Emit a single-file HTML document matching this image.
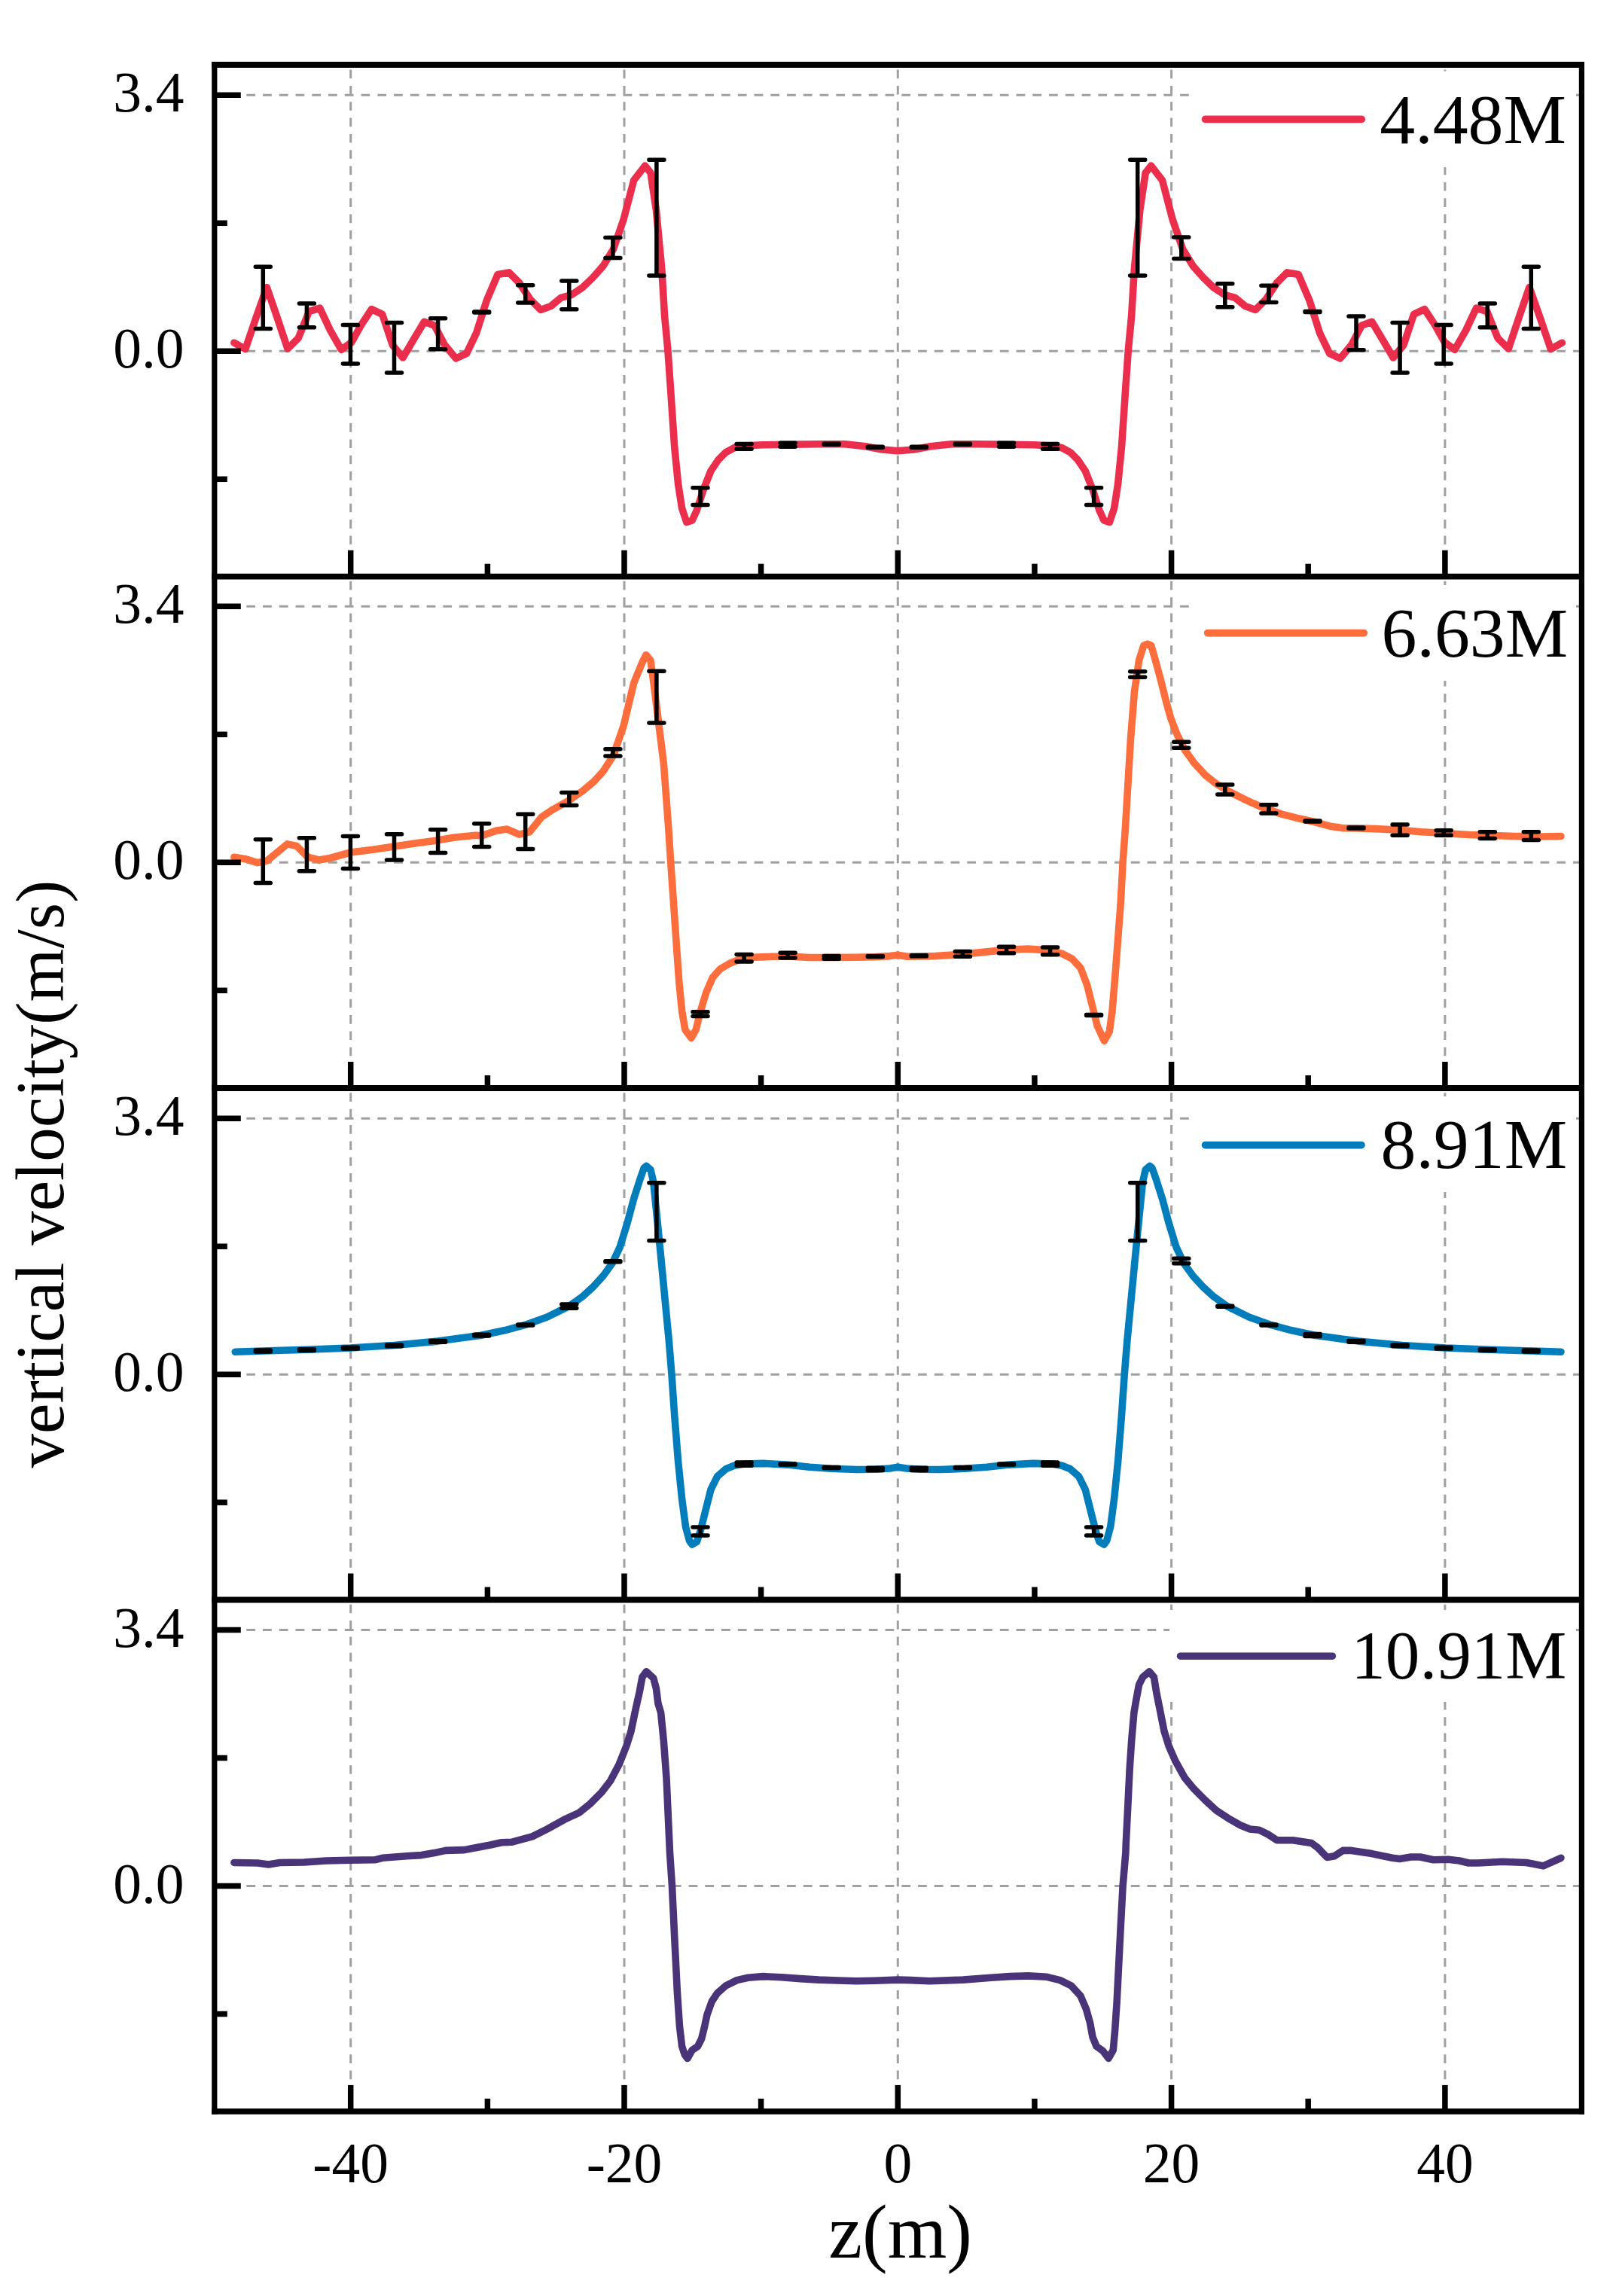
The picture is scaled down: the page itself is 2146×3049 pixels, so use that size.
<!DOCTYPE html><html><head><meta charset="utf-8"><title>vertical velocity</title><style>html,body{margin:0;padding:0;background:#fff}</style></head><body><svg width="2146" height="3049" viewBox="0 0 2146 3049" style="display:block">
<rect width="2146" height="3049" fill="#fff"/>
<g stroke="#a0a0a0" stroke-width="3.0" stroke-dasharray="11.6 9.74" fill="none">
<path d="M283.8 126.3H2100.4" stroke-dasharray="11.76 9.99"/>
<path d="M283.8 466.3H2100.4" stroke-dasharray="11.76 9.99"/>
<path d="M465.7 765.7V86.0"/>
<path d="M829.0 765.7V86.0"/>
<path d="M1192.3 765.7V86.0"/>
<path d="M1555.6 765.7V86.0"/>
<path d="M1918.9 765.7V86.0"/>
</g>
<rect x="1581" y="94.5" width="512" height="127.5" fill="#fff"/>
<g stroke="#a0a0a0" stroke-width="3.0" stroke-dasharray="11.6 9.74" fill="none">
<path d="M283.8 805.3H2100.4" stroke-dasharray="11.76 9.99"/>
<path d="M283.8 1145.3H2100.4" stroke-dasharray="11.76 9.99"/>
<path d="M465.7 1445.0V765.7"/>
<path d="M829.0 1445.0V765.7"/>
<path d="M1192.3 1445.0V765.7"/>
<path d="M1555.6 1445.0V765.7"/>
<path d="M1918.9 1445.0V765.7"/>
</g>
<rect x="1581" y="777.0" width="512" height="127" fill="#fff"/>
<g stroke="#a0a0a0" stroke-width="3.0" stroke-dasharray="11.6 9.74" fill="none">
<path d="M283.8 1485.2H2100.4" stroke-dasharray="11.76 9.99"/>
<path d="M283.8 1825.2H2100.4" stroke-dasharray="11.76 9.99"/>
<path d="M465.7 2124.5V1445.0"/>
<path d="M829.0 2124.5V1445.0"/>
<path d="M1192.3 2124.5V1445.0"/>
<path d="M1555.6 2124.5V1445.0"/>
<path d="M1918.9 2124.5V1445.0"/>
</g>
<rect x="1581" y="1456.0" width="512" height="127" fill="#fff"/>
<g stroke="#a0a0a0" stroke-width="3.0" stroke-dasharray="11.6 9.74" fill="none">
<path d="M283.8 2164.5H2100.4" stroke-dasharray="11.76 9.99"/>
<path d="M283.8 2504.5H2100.4" stroke-dasharray="11.76 9.99"/>
<path d="M465.7 2803.9V2124.5"/>
<path d="M829.0 2803.9V2124.5"/>
<path d="M1192.3 2803.9V2124.5"/>
<path d="M1555.6 2803.9V2124.5"/>
<path d="M1918.9 2803.9V2124.5"/>
</g>
<rect x="1553" y="2138.0" width="540" height="122" fill="#fff"/>
<polyline points="310.9,455.2 325.8,463.7 339.9,422.3 354.3,381.5 367.9,421.1 382.0,463.2 396.3,448.8 410.4,413.7 424.8,409.2 438.4,438.4 453.3,464.4 466.9,454.5 479.3,432.2 493.4,410.7 507.7,417.4 521.3,458.2 535.0,475.0 549.3,450.8 563.4,427.3 577.0,432.2 590.6,458.2 605.5,476.0 619.6,469.4 632.7,442.1 646.3,398.8 661.0,364.4 675.9,361.9 689.5,375.5 704.4,397.8 718.0,411.4 731.6,406.5 745.2,395.3 758.8,391.6 773.7,381.7 787.3,368.6 800.9,353.3 814.5,331.0 828.1,291.4 841.7,239.4 856.6,220.1 864.0,229.5 871.4,279.0 878.9,358.2 882.6,420.0 887.0,466.3 890.7,519.0 895.7,593.3 900.6,642.8 905.6,675.0 911.8,693.5 919.2,691.0 925.4,677.4 934.1,650.2 944.0,625.4 953.9,610.6 963.8,600.7 974.9,594.8 988.5,592.0 1013.3,590.8 1045.4,590.3 1087.5,589.8 1122.2,589.8 1149.4,592.8 1171.7,597.0 1192.2,598.7 1213.5,597.0 1235.8,592.8 1263.0,589.8 1297.7,589.8 1339.8,590.3 1371.9,590.8 1396.7,592.0 1410.3,594.8 1421.4,600.7 1431.3,610.6 1441.2,625.4 1451.1,650.2 1459.8,677.4 1466.0,691.0 1473.4,693.5 1479.6,675.0 1484.6,642.8 1489.5,593.3 1494.5,519.0 1498.2,466.3 1502.6,420.0 1506.3,358.2 1513.8,279.0 1521.2,229.5 1528.6,220.1 1543.5,239.4 1557.1,291.4 1570.7,331.0 1584.3,353.3 1597.9,368.6 1611.5,381.7 1626.4,391.6 1640.0,395.3 1653.6,406.5 1667.2,411.4 1680.8,397.8 1695.7,375.5 1709.3,361.9 1724.2,364.4 1738.9,398.8 1752.5,442.1 1765.6,469.4 1779.7,476.0 1794.6,458.2 1808.2,432.2 1821.8,427.3 1835.9,450.8 1850.2,475.0 1863.9,458.2 1877.5,417.4 1891.8,410.7 1905.9,432.2 1918.3,454.5 1931.9,464.4 1946.8,438.4 1960.4,409.2 1974.8,413.7 1988.9,448.8 2003.2,463.2 2017.3,421.1 2030.9,381.5 2045.3,422.3 2059.4,463.7 2074.3,455.2" fill="none" stroke="#ea2e4c" stroke-width="9.6" stroke-linejoin="round" stroke-linecap="round"/>
<polyline points="310.9,1138.2 325.8,1140.7 341.9,1145.6 354.3,1143.2 366.6,1133.3 381.5,1120.9 393.9,1123.4 408.7,1138.2 423.6,1141.9 438.4,1139.5 465.6,1132.0 495.3,1128.3 523.8,1123.9 552.3,1119.7 581.2,1115.9 601.8,1112.2 631.5,1109.3 640.0,1109.8 659.8,1102.9 673.4,1101.1 689.5,1108.1 703.1,1104.9 719.2,1085.0 734.1,1075.1 753.9,1064.0 773.7,1050.4 788.5,1038.0 800.9,1024.4 814.5,1003.4 828.1,963.8 841.7,906.8 852.9,879.6 857.8,869.7 864.0,877.1 869.0,914.3 875.1,963.8 881.3,1013.3 887.8,1100.0 890.7,1145.3 894.5,1199.0 898.2,1253.5 901.9,1305.4 905.6,1342.6 909.8,1367.3 918.0,1378.5 924.2,1367.3 930.3,1342.6 937.8,1317.8 946.4,1298.0 956.3,1286.9 968.7,1279.5 981.1,1274.5 1000.9,1271.3 1025.6,1270.3 1050.4,1270.3 1075.1,1271.5 1104.9,1271.5 1137.0,1271.3 1161.8,1270.8 1181.6,1269.6 1192.2,1268.3 1204.8,1270.3 1241.9,1269.6 1279.0,1267.1 1308.7,1264.1 1335.9,1261.4 1365.6,1260.1 1394.1,1262.1 1410.2,1266.3 1423.8,1273.3 1435.0,1285.6 1443.6,1307.9 1451.0,1337.6 1457.2,1362.4 1466.4,1382.2 1473.3,1369.8 1477.0,1342.6 1480.7,1298.0 1484.5,1248.5 1488.2,1199.0 1491.1,1145.3 1494.4,1100.0 1497.8,1042.8 1501.5,980.9 1506.4,919.0 1512.6,876.9 1518.8,857.1 1523.8,855.1 1528.7,857.1 1533.7,874.5 1541.1,901.7 1548.5,931.4 1554.7,953.7 1563.4,975.9 1573.3,995.7 1585.6,1013.1 1600.5,1029.2 1615.3,1041.0 1632.7,1051.4 1655.0,1062.6 1677.2,1072.5 1702.0,1081.1 1726.7,1087.3 1746.5,1091.8 1766.3,1097.2 1783.7,1099.7 1801.1,1099.9 1826.6,1100.6 1858.8,1102.3 1888.5,1104.8 1918.2,1106.5 1950.4,1108.5 1975.1,1109.3 2012.3,1110.5 2046.9,1111.0 2072.9,1110.5" fill="none" stroke="#fe6d3c" stroke-width="9.6" stroke-linejoin="round" stroke-linecap="round"/>
<polyline points="312.2,1795.2 349.3,1794.0 407.0,1792.2 465.1,1790.0 523.1,1786.5 581.2,1781.1 638.9,1773.2 669.7,1766.8 697.4,1759.4 726.6,1749.0 755.6,1734.6 773.7,1721.7 788.5,1708.1 800.9,1694.5 813.3,1677.2 823.2,1656.1 833.1,1624.0 841.7,1591.8 850.4,1564.6 855.3,1550.9 858.3,1548.5 864.0,1553.4 867.7,1569.5 872.7,1619.0 877.6,1668.5 888.3,1780.0 892.0,1825.3 895.7,1879.0 900.6,1940.9 905.6,1990.4 910.5,2027.5 915.5,2046.1 919.2,2051.0 925.4,2047.3 930.3,2032.5 936.5,2007.7 944.0,1978.0 952.6,1960.7 963.8,1950.8 974.9,1946.3 988.5,1944.1 1013.3,1943.4 1045.4,1945.1 1075.1,1948.3 1104.1,1950.3 1137.0,1951.5 1162.3,1951.3 1181.6,1950.0 1192.2,1948.3 1203.6,1950.0 1222.9,1951.3 1248.2,1951.5 1281.1,1950.3 1310.1,1948.3 1339.8,1945.1 1371.9,1943.4 1396.7,1944.1 1410.3,1946.3 1421.4,1950.8 1432.6,1960.7 1441.2,1978.0 1448.7,2007.7 1454.9,2032.5 1459.8,2047.3 1466.0,2051.0 1469.7,2046.1 1474.7,2027.5 1479.6,1990.4 1484.6,1940.9 1489.5,1879.0 1493.2,1825.3 1496.9,1780.0 1507.6,1668.5 1512.5,1619.0 1517.5,1569.5 1521.2,1553.4 1526.9,1548.5 1529.9,1550.9 1534.8,1564.6 1543.5,1591.8 1552.1,1624.0 1562.0,1656.1 1571.9,1677.2 1584.3,1694.5 1596.7,1708.1 1611.5,1721.7 1629.6,1734.6 1658.6,1749.0 1687.8,1759.4 1715.5,1766.8 1746.3,1773.2 1804.0,1781.1 1862.1,1786.5 1920.1,1790.0 1978.2,1792.2 2035.9,1794.0 2073.0,1795.2" fill="none" stroke="#017dbc" stroke-width="9.6" stroke-linejoin="round" stroke-linecap="round"/>
<polyline points="310.9,2473.5 341.9,2474.0 356.7,2475.9 371.6,2473.5 403.8,2473.0 433.5,2471.0 465.1,2470.2 497.8,2469.8 507.7,2467.3 539.9,2464.8 559.7,2463.6 577.0,2460.6 591.9,2457.4 616.6,2456.6 631.5,2453.7 651.3,2450.0 666.1,2446.7 680.0,2446.2 706.8,2438.9 726.6,2429.0 751.4,2415.3 768.7,2407.4 783.6,2395.5 798.4,2380.7 810.8,2364.6 821.9,2343.6 831.8,2318.8 838.0,2299.0 844.2,2269.3 849.2,2247.0 852.9,2227.2 858.3,2219.8 867.7,2228.5 871.4,2242.1 873.9,2261.9 877.6,2274.3 881.3,2311.4 885.0,2360.9 889.5,2460.0 892.5,2504.6 895.7,2571.4 899.4,2645.6 902.4,2690.2 905.6,2717.4 909.3,2728.6 913.0,2733.5 919.2,2722.4 926.6,2717.4 931.6,2707.5 935.3,2692.7 939.0,2675.3 945.2,2658.0 952.6,2646.9 963.8,2637.0 978.6,2629.6 993.5,2626.3 1013.3,2624.6 1038.0,2625.8 1062.8,2627.6 1087.5,2629.1 1112.3,2630.0 1137.0,2630.8 1161.8,2630.3 1192.2,2629.1 1209.7,2629.6 1234.5,2630.8 1279.0,2629.1 1316.1,2626.3 1340.9,2624.6 1365.6,2623.9 1390.4,2625.3 1407.7,2629.6 1422.6,2637.0 1435.0,2650.6 1442.4,2667.9 1447.3,2685.2 1451.0,2705.0 1456.0,2717.4 1464.7,2723.6 1472.1,2733.5 1478.3,2722.4 1480.7,2695.1 1483.2,2658.0 1485.7,2608.5 1488.2,2559.0 1491.1,2504.6 1494.9,2460.0 1495.3,2447.5 1497.8,2398.0 1500.2,2348.5 1502.7,2311.4 1505.9,2274.3 1508.9,2256.9 1512.6,2237.1 1517.6,2227.2 1526.2,2219.8 1532.4,2227.2 1536.1,2249.5 1541.1,2274.3 1546.0,2299.0 1552.2,2318.8 1560.9,2338.6 1573.3,2360.9 1585.6,2375.7 1600.5,2390.6 1615.3,2404.2 1630.2,2414.1 1647.5,2424.0 1659.9,2429.0 1672.3,2430.2 1684.7,2436.4 1695.8,2443.8 1716.8,2443.8 1741.6,2447.5 1749.9,2453.7 1762.3,2466.5 1772.2,2464.8 1783.3,2457.4 1794.5,2457.4 1821.7,2461.6 1848.9,2467.3 1858.8,2468.5 1873.7,2466.0 1886.0,2466.0 1903.4,2469.8 1923.2,2469.3 1938.0,2471.0 1950.4,2474.0 1962.8,2474.0 1995.0,2472.2 2027.1,2473.5 2049.4,2477.9 2072.9,2467.3" fill="none" stroke="#493479" stroke-width="9.6" stroke-linejoin="round" stroke-linecap="round"/>
<path d="M349.3 354.3V436.4M339.3 354.3H359.3M339.3 436.4H359.3M407.4 403.0V434.7M397.4 403.0H417.4M397.4 434.7H417.4M465.4 431.5V483.0M455.4 431.5H475.4M455.4 483.0H475.4M523.5 428.5V494.9M513.5 428.5H533.5M513.5 494.9H533.5M581.6 422.8V463.7M571.6 422.8H591.6M571.6 463.7H591.6M639.7 413.9V414.9M629.7 413.9H649.7M629.7 414.9H649.7M697.7 378.8V402.0M687.7 378.8H707.7M687.7 402.0H707.7M755.8 373.1V410.7M745.8 373.1H765.8M745.8 410.7H765.8M813.9 315.4V342.6M803.9 315.4H823.9M803.9 342.6H823.9M871.9 212.2V366.1M861.9 212.2H881.9M861.9 366.1H881.9M930.0 647.7V670.5M920.0 647.7H940.0M920.0 670.5H940.0M988.1 589.6V596.2M978.1 589.6H998.1M978.1 596.2H998.1M1046.1 588.3V593.3M1036.1 588.3H1056.1M1036.1 593.3H1056.1M1104.2 589.3V590.3M1094.2 589.3H1114.2M1094.2 590.3H1114.2M1162.3 593.3V594.3M1152.3 593.3H1172.3M1152.3 594.3H1172.3M1220.3 593.3V594.3M1210.3 593.3H1230.3M1210.3 594.3H1230.3M1278.4 589.3V590.3M1268.4 589.3H1288.4M1268.4 590.3H1288.4M1336.5 588.3V593.3M1326.5 588.3H1346.5M1326.5 593.3H1346.5M1394.6 589.6V596.2M1384.6 589.6H1404.6M1384.6 596.2H1404.6M1452.6 647.7V670.5M1442.6 647.7H1462.6M1442.6 670.5H1462.6M1510.7 212.2V366.1M1500.7 212.2H1520.7M1500.7 366.1H1520.7M1568.8 314.9V343.4M1558.8 314.9H1578.8M1558.8 343.4H1578.8M1626.8 376.8V407.7M1616.8 376.8H1636.8M1616.8 407.7H1636.8M1684.9 379.3V401.5M1674.9 379.3H1694.9M1674.9 401.5H1694.9M1743.0 413.4V414.4M1733.0 413.4H1753.0M1733.0 414.4H1753.0M1801.0 420.1V464.7M1791.0 420.1H1811.0M1791.0 464.7H1811.0M1859.1 428.5V494.9M1849.1 428.5H1869.1M1849.1 494.9H1869.1M1917.2 431.5V483.0M1907.2 431.5H1927.2M1907.2 483.0H1927.2M1975.3 403.0V434.7M1965.3 403.0H1985.3M1965.3 434.7H1985.3M2033.3 354.3V436.4M2023.3 354.3H2043.3M2023.3 436.4H2043.3" fill="none" stroke="#000" stroke-width="5.5" stroke-linecap="round"/>
<path d="M349.3 1114.7V1172.4M339.3 1114.7H359.3M339.3 1172.4H359.3M407.4 1112.7V1156.8M397.4 1112.7H417.4M397.4 1156.8H417.4M465.4 1110.5V1153.6M455.4 1110.5H475.4M455.4 1153.6H475.4M523.5 1107.8V1141.9M513.5 1107.8H533.5M513.5 1141.9H533.5M581.6 1101.8V1132.5M571.6 1101.8H591.6M571.6 1132.5H591.6M639.7 1093.7V1124.6M629.7 1093.7H649.7M629.7 1124.6H649.7M697.7 1081.3V1127.6M687.7 1081.3H707.7M687.7 1127.6H707.7M755.8 1052.4V1069.5M745.8 1052.4H765.8M745.8 1069.5H765.8M813.9 994.7V1004.1M803.9 994.7H823.9M803.9 1004.1H823.9M871.9 891.2V960.0M861.9 891.2H881.9M861.9 960.0H881.9M930.0 1343.8V1349.5M920.0 1343.8H940.0M920.0 1349.5H940.0M988.1 1267.6V1277.0M978.1 1267.6H998.1M978.1 1277.0H998.1M1046.1 1265.3V1272.0M1036.1 1265.3H1056.1M1036.1 1272.0H1056.1M1104.2 1269.6V1273.3M1094.2 1269.6H1114.2M1094.2 1273.3H1114.2M1162.3 1269.5V1270.5M1152.3 1269.5H1172.3M1152.3 1270.5H1172.3M1220.3 1268.8V1269.8M1210.3 1268.8H1230.3M1210.3 1269.8H1230.3M1278.4 1263.4V1270.3M1268.4 1263.4H1288.4M1268.4 1270.3H1288.4M1336.5 1257.2V1265.8M1326.5 1257.2H1346.5M1326.5 1265.8H1346.5M1394.6 1257.9V1267.8M1384.6 1257.9H1404.6M1384.6 1267.8H1404.6M1452.6 1347.5V1348.5M1442.6 1347.5H1462.6M1442.6 1348.5H1462.6M1510.7 891.8V899.2M1500.7 891.8H1520.7M1500.7 899.2H1520.7M1568.8 985.3V993.3M1558.8 985.3H1578.8M1558.8 993.3H1578.8M1626.8 1042.0V1055.1M1616.8 1042.0H1636.8M1616.8 1055.1H1636.8M1684.9 1068.8V1079.9M1674.9 1068.8H1694.9M1674.9 1079.9H1694.9M1743.0 1090.0V1091.0M1733.0 1090.0H1753.0M1733.0 1091.0H1753.0M1801.0 1098.9V1099.9M1791.0 1098.9H1811.0M1791.0 1099.9H1811.0M1859.1 1094.9V1109.3M1849.1 1094.9H1869.1M1849.1 1109.3H1869.1M1917.2 1102.8V1109.3M1907.2 1102.8H1927.2M1907.2 1109.3H1927.2M1975.3 1104.8V1113.5M1965.3 1104.8H1985.3M1965.3 1113.5H1985.3M2033.3 1104.8V1115.4M2023.3 1104.8H2043.3M2023.3 1115.4H2043.3" fill="none" stroke="#000" stroke-width="5.5" stroke-linecap="round"/>
<path d="M349.3 1793.1V1794.9M339.3 1793.1H359.3M339.3 1794.9H359.3M407.4 1791.8V1793.6M397.4 1791.8H417.4M397.4 1793.6H417.4M465.4 1789.3V1791.1M455.4 1789.3H475.4M455.4 1791.1H475.4M523.5 1785.9V1787.7M513.5 1785.9H533.5M513.5 1787.7H533.5M581.6 1780.4V1782.2M571.6 1780.4H591.6M571.6 1782.2H591.6M639.7 1772.3V1774.1M629.7 1772.3H649.7M629.7 1774.1H649.7M697.7 1758.9V1759.9M687.7 1758.9H707.7M687.7 1759.9H707.7M755.8 1732.1V1737.3M745.8 1732.1H765.8M745.8 1737.3H765.8M813.9 1674.7V1675.7M803.9 1674.7H823.9M803.9 1675.7H823.9M871.9 1570.7V1647.5M861.9 1570.7H881.9M861.9 1647.5H881.9M930.0 2028.0V2038.9M920.0 2028.0H940.0M920.0 2038.9H940.0M988.1 1942.1V1946.3M978.1 1942.1H998.1M978.1 1946.3H998.1M1046.1 1944.1V1945.1M1036.1 1944.1H1056.1M1036.1 1945.1H1056.1M1104.2 1948.6V1949.6M1094.2 1948.6H1114.2M1094.2 1949.6H1114.2M1162.3 1949.2V1952.4M1152.3 1949.2H1172.3M1152.3 1952.4H1172.3M1220.3 1949.2V1952.4M1210.3 1949.2H1230.3M1210.3 1952.4H1230.3M1278.4 1948.6V1949.6M1268.4 1948.6H1288.4M1268.4 1949.6H1288.4M1336.5 1944.1V1945.1M1326.5 1944.1H1346.5M1326.5 1945.1H1346.5M1394.6 1942.1V1946.3M1384.6 1942.1H1404.6M1384.6 1946.3H1404.6M1452.6 2028.0V2038.9M1442.6 2028.0H1462.6M1442.6 2038.9H1462.6M1510.7 1570.7V1647.5M1500.7 1570.7H1520.7M1500.7 1647.5H1520.7M1568.8 1671.2V1677.8M1558.8 1671.2H1578.8M1558.8 1677.8H1578.8M1626.8 1734.2V1735.2M1616.8 1734.2H1636.8M1616.8 1735.2H1636.8M1684.9 1758.9V1759.9M1674.9 1758.9H1694.9M1674.9 1759.9H1694.9M1743.0 1771.4V1774.6M1733.0 1771.4H1753.0M1733.0 1774.6H1753.0M1801.0 1780.4V1782.2M1791.0 1780.4H1811.0M1791.0 1782.2H1811.0M1859.1 1785.9V1787.7M1849.1 1785.9H1869.1M1849.1 1787.7H1869.1M1917.2 1789.3V1791.1M1907.2 1789.3H1927.2M1907.2 1791.1H1927.2M1975.3 1791.8V1793.6M1965.3 1791.8H1985.3M1965.3 1793.6H1985.3M2033.3 1793.1V1794.9M2023.3 1793.1H2043.3M2023.3 1794.9H2043.3" fill="none" stroke="#000" stroke-width="5.5" stroke-linecap="round"/>
<path d="M1600.5 158.4H1808.3" stroke="#ea2e4c" stroke-width="9.6" stroke-linecap="round"/>
<text x="1832.3" y="189.5" font-family="'Liberation Serif',serif" font-size="93.8">4.48M</text>
<path d="M1603.6 840.6H1811.4" stroke="#fe6d3c" stroke-width="9.6" stroke-linecap="round"/>
<text x="1834.6" y="872.4" font-family="'Liberation Serif',serif" font-size="93.8">6.63M</text>
<path d="M1600.5 1520.6H1808.0" stroke="#017dbc" stroke-width="9.6" stroke-linecap="round"/>
<text x="1833.5" y="1551.4" font-family="'Liberation Serif',serif" font-size="93.8">8.91M</text>
<path d="M1567.5 2199.2H1769.4" stroke="#493479" stroke-width="9.5" stroke-linecap="round"/>
<text x="1794.2" y="2228.8" font-family="'Liberation Serif',serif" font-size="91.2">10.91M</text>
<g stroke="#000" stroke-width="7.5" fill="none" stroke-linecap="butt">
<path d="M284.8 82.1V2807.8M2100.4 82.1V2807.8" stroke-width="7.2"/>
<path d="M281.2 86.0H2104.0" stroke-width="7.8"/>
<path d="M281.2 765.7H2104.0" stroke-width="7.8"/>
<path d="M281.2 1445.0H2104.0" stroke-width="7.8"/>
<path d="M281.2 2124.5H2104.0" stroke-width="7.8"/>
<path d="M281.2 2803.9H2104.0" stroke-width="7.8"/>
<path d="M284.8 126.3h35"/>
<path d="M284.8 296.3h17"/>
<path d="M284.8 466.3h35"/>
<path d="M284.8 636.3h17"/>
<path d="M465.7 765.7v-35"/>
<path d="M647.4 765.7v-17"/>
<path d="M829.0 765.7v-35"/>
<path d="M1010.6 765.7v-17"/>
<path d="M1192.3 765.7v-35"/>
<path d="M1373.9 765.7v-17"/>
<path d="M1555.6 765.7v-35"/>
<path d="M1737.2 765.7v-17"/>
<path d="M1918.9 765.7v-35"/>
<path d="M284.8 805.3h35"/>
<path d="M284.8 975.3h17"/>
<path d="M284.8 1145.3h35"/>
<path d="M284.8 1315.3h17"/>
<path d="M465.7 1445.0v-35"/>
<path d="M647.4 1445.0v-17"/>
<path d="M829.0 1445.0v-35"/>
<path d="M1010.6 1445.0v-17"/>
<path d="M1192.3 1445.0v-35"/>
<path d="M1373.9 1445.0v-17"/>
<path d="M1555.6 1445.0v-35"/>
<path d="M1737.2 1445.0v-17"/>
<path d="M1918.9 1445.0v-35"/>
<path d="M284.8 1485.2h35"/>
<path d="M284.8 1655.2h17"/>
<path d="M284.8 1825.2h35"/>
<path d="M284.8 1995.2h17"/>
<path d="M465.7 2124.5v-35"/>
<path d="M647.4 2124.5v-17"/>
<path d="M829.0 2124.5v-35"/>
<path d="M1010.6 2124.5v-17"/>
<path d="M1192.3 2124.5v-35"/>
<path d="M1373.9 2124.5v-17"/>
<path d="M1555.6 2124.5v-35"/>
<path d="M1737.2 2124.5v-17"/>
<path d="M1918.9 2124.5v-35"/>
<path d="M284.8 2164.5h35"/>
<path d="M284.8 2334.5h17"/>
<path d="M284.8 2504.5h35"/>
<path d="M284.8 2674.5h17"/>
<path d="M465.7 2803.9v-35"/>
<path d="M647.4 2803.9v-17"/>
<path d="M829.0 2803.9v-35"/>
<path d="M1010.6 2803.9v-17"/>
<path d="M1192.3 2803.9v-35"/>
<path d="M1373.9 2803.9v-17"/>
<path d="M1555.6 2803.9v-35"/>
<path d="M1737.2 2803.9v-17"/>
<path d="M1918.9 2803.9v-35"/>
</g>
<g font-family="'Liberation Serif',serif" font-size="75.5" fill="#000">
<text x="244.5" y="148.3" text-anchor="end">3.4</text>
<text x="244.5" y="488.3" text-anchor="end">0.0</text>
<text x="244.5" y="827.3" text-anchor="end">3.4</text>
<text x="244.5" y="1167.3" text-anchor="end">0.0</text>
<text x="244.5" y="1507.2" text-anchor="end">3.4</text>
<text x="244.5" y="1847.2" text-anchor="end">0.0</text>
<text x="244.5" y="2186.5" text-anchor="end">3.4</text>
<text x="244.5" y="2526.5" text-anchor="end">0.0</text>
<text x="465.7" y="2898" text-anchor="middle">-40</text>
<text x="829.0" y="2898" text-anchor="middle">-20</text>
<text x="1192.3" y="2898" text-anchor="middle">0</text>
<text x="1555.6" y="2898" text-anchor="middle">20</text>
<text x="1918.9" y="2898" text-anchor="middle">40</text>
</g>
<text x="1195.6" y="2997.5" text-anchor="middle" font-family="'Liberation Serif',serif" font-size="101">z(m)</text>
<text transform="translate(83.5,1559) rotate(-90)" text-anchor="middle" font-family="'Liberation Serif',serif" font-size="91">vertical velocity(m/s)</text>
</svg></body></html>
